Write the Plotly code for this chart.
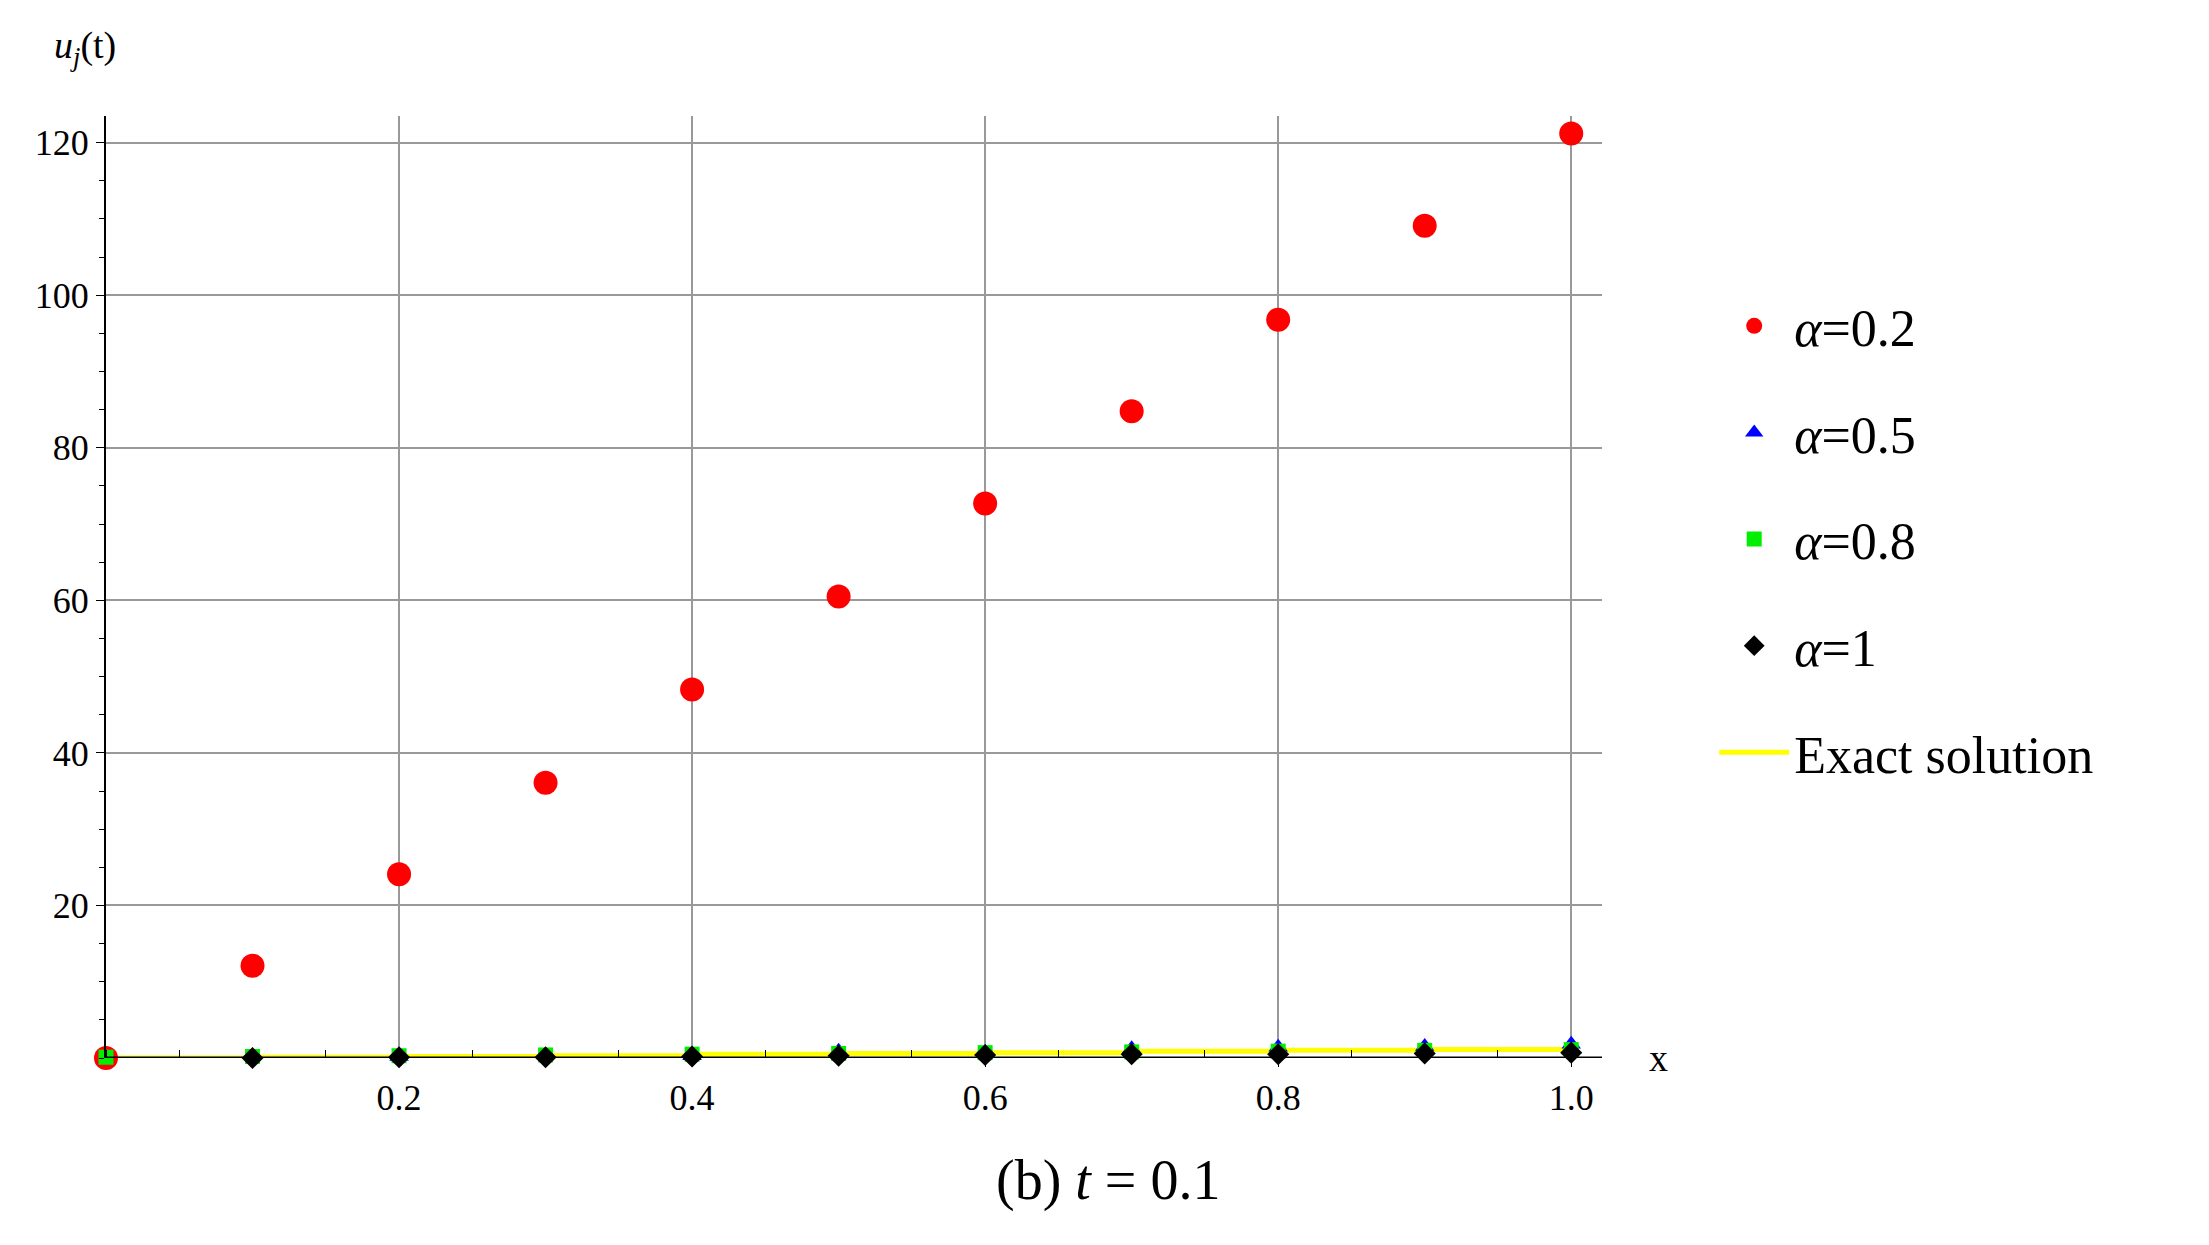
import plotly.graph_objects as go

x = [0, 0.1, 0.2, 0.3, 0.4, 0.5, 0.6, 0.7, 0.8, 0.9, 1.0]
a02 = [0, 12.1, 24.1, 36.1, 48.3, 60.5, 72.7, 84.8, 96.8, 109.1, 121.2]
a05 = [-0.6, -0.5, 0.2, -0.3, 0.3, 0.9, 0.7, 1.2, 1.4, 1.5, 1.8]
a08 = [0.1, 0.2, 0.3, 0.4, 0.5, 0.6, 0.7, 0.8, 0.9, 1.0, 1.1]
a1 = [-0.2, 0.0, 0.1, 0.1, 0.2, 0.3, 0.4, 0.5, 0.5, 0.6, 0.7]
exact = [0.0, 0.1, 0.2, 0.3, 0.5, 0.6, 0.7, 0.9, 1.0, 1.1, 1.3]
xticks = [0.2, 0.4, 0.6, 0.8, 1.0]
xticktext = ["0.2", "0.4", "0.6", "0.8", "1.0"]
yticks = [20, 40, 60, 80, 100, 120]

ff = "Liberation Serif"
fig = go.Figure()
fig.add_trace(go.Scatter(x=x, y=exact, mode="lines", line=dict(color="#ffff00", width=5, shape="hv"),
                         name="Exact solution", legendgroup="e", legendrank=5))
fig.add_trace(go.Scatter(x=x, y=a02, mode="markers", marker=dict(symbol="circle", color="#ff0000", size=24),
                         name="<i>α</i>=0.2", legendgroup="a", legendrank=1, cliponaxis=False))
fig.add_trace(go.Scatter(x=x, y=a05, mode="markers", marker=dict(symbol="triangle-up", color="#0000ff", size=17),
                         name="<i>α</i>=0.5", legendgroup="b", legendrank=2, cliponaxis=False))
fig.add_trace(go.Scatter(x=x, y=a08, mode="markers", marker=dict(symbol="square", color="#00ee00", size=15),
                         name="<i>α</i>=0.8", legendgroup="c", legendrank=3, cliponaxis=False))
fig.add_trace(go.Scatter(x=x, y=a1, mode="markers", marker=dict(symbol="diamond", color="#000000", size=17),
                         name="<i>α</i>=1", legendgroup="d", legendrank=4, cliponaxis=False))

fig.update_layout(
    width=2209, height=1245, plot_bgcolor="white", paper_bgcolor="white",
    margin=dict(l=98, r=615, t=108, b=195),
    font=dict(family=ff, size=36, color="black"),
    legend=dict(x=1.075, y=0.82, xanchor="left", yanchor="top", font=dict(size=52),
                tracegroupgap=36, itemwidth=70),
    xaxis=dict(range=[0, 1.021], tickvals=xticks, ticktext=xticktext, showgrid=True,
               gridcolor="#999999", gridwidth=2, showline=False, zeroline=False,
               ticks="outside", ticklen=8, tickcolor="black",
               minor=dict(dtick=0.05, tick0=0, ticks="inside", ticklen=8, tickcolor="black", showgrid=False)),
    yaxis=dict(range=[0, 123.5], tickvals=yticks, showgrid=True, gridcolor="#999999", gridwidth=2,
               showline=True, linecolor="black", linewidth=2, zeroline=False,
               ticks="outside", ticklen=8, tickcolor="black",
               minor=dict(dtick=5, tick0=0, ticks="outside", ticklen=5, tickcolor="black", showgrid=False)),
    shapes=[dict(type="line", xref="paper", yref="y", x0=0, x1=1, y0=0, y1=0,
                 line=dict(color="black", width=3))],
    annotations=[
        dict(text="<i>u</i><sub><i>j</i></sub>(t)", xref="paper", yref="paper", x=-0.036, y=1.045,
             xanchor="left", yanchor="bottom", showarrow=False, font=dict(size=38)),
        dict(text="x", xref="paper", yref="y", x=1.03, y=0, xanchor="left", yanchor="middle",
             showarrow=False, font=dict(size=38)),
        dict(text="(b) <i>t</i> = 0.1", xref="paper", yref="paper", x=0.67, y=-0.13,
             xanchor="center", yanchor="middle", showarrow=False, font=dict(size=56)),
    ],
)
fig.write_html("out.html")
